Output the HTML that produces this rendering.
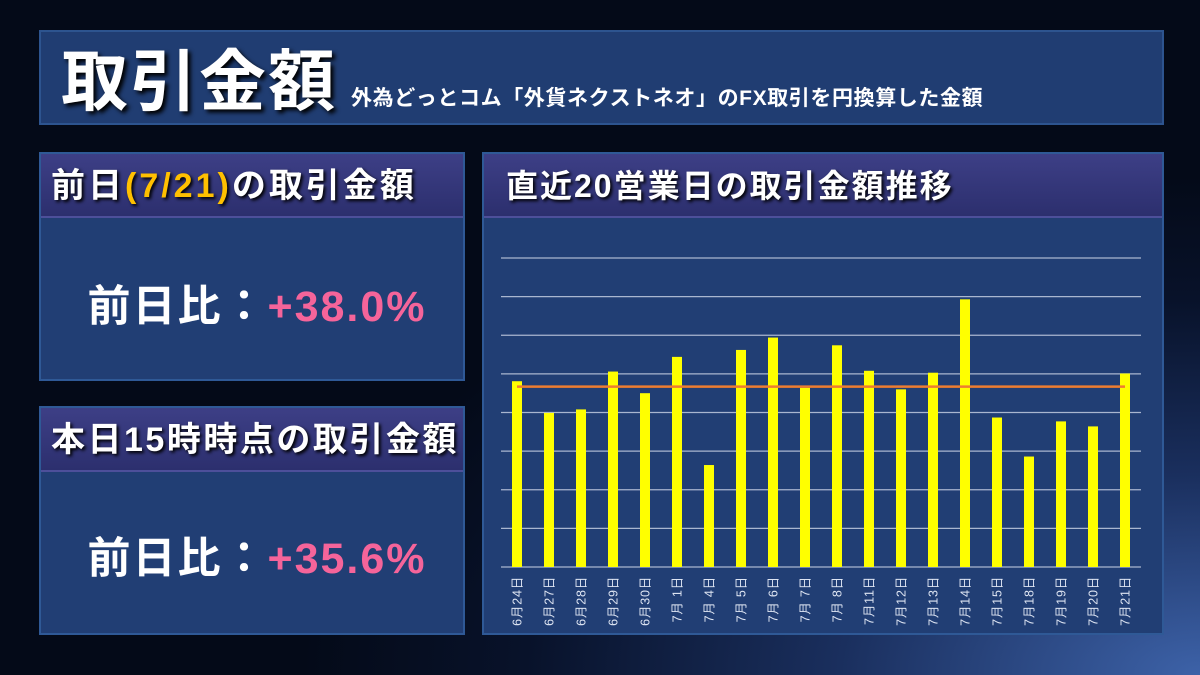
<!DOCTYPE html>
<html><head><meta charset="utf-8"><style>
*{margin:0;padding:0;box-sizing:border-box}
body{width:1200px;height:675px;overflow:hidden;font-family:"Liberation Sans","Noto Sans CJK JP",sans-serif;
background:radial-gradient(ellipse 900px 500px at 1200px 675px,#3d62a8 0%,#1a2f5e 40%,#08122a 75%,#040a18 100%);position:relative}
.box{position:absolute;background:#213e74;border:2px solid #2f5996}
.hdr{position:absolute;left:0;right:0;top:0;height:64px;background:linear-gradient(#3d3f86,#2c2f6e);border-bottom:2px solid #4d4f9a;color:#fff;font-weight:bold;font-size:33px;letter-spacing:2.5px;line-height:64px;padding-left:10px;text-shadow:2px 2px 3px #000;white-space:nowrap}
.val{position:absolute;left:5px;right:-5px;text-align:center;font-size:43px;color:#fff;font-weight:bold;letter-spacing:2px}
.val span{color:#f5649a}
</style></head><body>
<div class="box" style="left:39px;top:30px;width:1125px;height:95px;background:#203d72;border-color:#2d548f">
 <span style="position:absolute;left:20px;top:-4px;font-size:67px;letter-spacing:2px;font-weight:bold;color:#fff;text-shadow:3px 3px 4px #000">取引金額</span>
 <span style="position:absolute;left:310px;top:50px;font-size:21px;letter-spacing:0.6px;font-weight:bold;color:#fff;white-space:nowrap">外為どっとコム「外貨ネクストネオ」のFX取引を円換算した金額</span>
</div>
<div class="box" style="left:39px;top:152px;width:426px;height:229px">
 <div class="hdr" style="font-size:34px;letter-spacing:3px">前日<span style="color:#ffc000">(7/21)</span>の取引金額</div>
 <div class="val" style="top:118px">前日比：<span>+38.0%</span></div>
</div>
<div class="box" style="left:39px;top:406px;width:426px;height:229px">
 <div class="hdr" style="font-size:34px;letter-spacing:2.5px">本日15時時点の取引金額</div>
 <div class="val" style="top:116px">前日比：<span>+35.6%</span></div>
</div>
<div class="box" style="left:482px;top:152px;width:682px;height:483px">
 <div class="hdr" style="padding-left:22px;font-size:32px;letter-spacing:2px">直近20営業日の取引金額推移</div>
</div>
<svg id="chart" width="1200" height="675" style="position:absolute;left:0;top:0"></svg>
<script>
const categories=["6月24日","6月27日","6月28日","6月29日","6月30日","7月 1日","7月 4日","7月 5日","7月 6日","7月 7日","7月 8日","7月11日","7月12日","7月13日","7月14日","7月15日","7月18日","7月19日","7月20日","7月21日"];
const values=[4.81,3.99,4.08,5.06,4.50,5.44,2.64,5.62,5.94,4.64,5.74,5.08,4.60,5.03,6.93,3.87,2.86,3.77,3.64,5.01];
const averageValue=[4.67];
const yMax=8, gridCount=8;
const NS="http://www.w3.org/2000/svg",svg=document.getElementById('chart');
const x0=501,x1=1141,yB=567,yT=258;
const y=v=>yB-(v/yMax)*(yB-yT);
const step=(x1-x0)/categories.length;
const xc=i=>x0+step*(i+0.5);
function mk(t,a){const e=document.createElementNS(NS,t);for(const k in a)e.setAttribute(k,a[k]);svg.appendChild(e);return e;}
for(let g=0;g<=gridCount;g++){
 const l=mk('line',{x1:x0,x2:x1,y1:y(g*yMax/gridCount),y2:y(g*yMax/gridCount),stroke:'#a9b6cf','stroke-width':1.2});
 
 
}
values.forEach((v,i)=>{
 const r=mk('rect',{x:xc(i)-5,y:y(v),width:10,height:yB-y(v),fill:'#ffff00'});
 
 
 const t=mk('text',{x:0,y:0,transform:`translate(${xc(i)+4.5},${576}) rotate(-90)`,'text-anchor':'end',fill:'#dde4f2','font-size':12.5,'letter-spacing':0.8,'font-family':'"Liberation Sans","Noto Sans CJK JP",sans-serif'});
 t.textContent=categories[i];
 
 
});
const av=mk('line',{x1:xc(0),x2:xc(categories.length-1),y1:y(averageValue[0]),y2:y(averageValue[0]),stroke:'#ed7d31','stroke-width':2.5});


</script>
</body></html>
